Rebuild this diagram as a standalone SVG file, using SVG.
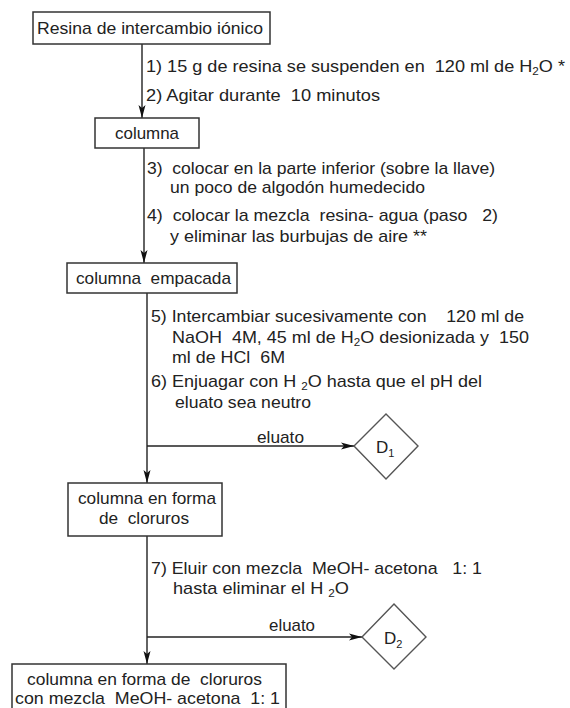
<svg xmlns="http://www.w3.org/2000/svg" width="570" height="708" viewBox="0 0 570 708">
<style>
text{font-family:"Liberation Sans",Arial,sans-serif;font-size:17px;fill:#222;white-space:pre}
.box{fill:#fff;stroke:#333;stroke-width:1.5}
.dia{fill:#fff;stroke:#555;stroke-width:1.4}
.ln{fill:none;stroke:#222;stroke-width:1.4}
.sub{font-size:11px}
</style>
<defs>
<marker id="ah" markerUnits="userSpaceOnUse" markerWidth="14" markerHeight="10" refX="13" refY="4" orient="auto">
<path d="M0,0.5 L13,4 L0,7.5 L3,4 Z" fill="#111"/>
</marker>
</defs>
<rect width="570" height="708" fill="#fff"/>
<g id="connectors">
<line class="ln" x1="142" y1="44" x2="142" y2="118" marker-end="url(#ah)"/>
<line class="ln" x1="144" y1="148" x2="144" y2="263" marker-end="url(#ah)"/>
<line class="ln" x1="147" y1="293" x2="147" y2="483" marker-end="url(#ah)"/>
<line class="ln" x1="147" y1="446" x2="354" y2="446" marker-end="url(#ah)"/>
<line class="ln" x1="147" y1="536" x2="147" y2="664" marker-end="url(#ah)"/>
<line class="ln" x1="147" y1="637" x2="362" y2="637" marker-end="url(#ah)"/>
</g>
<g id="labels">
<text x="146" y="72" textLength="419" lengthAdjust="spacingAndGlyphs">1) 15 g de resina se suspenden en  120 ml de H<tspan class="sub" dy="3">2</tspan><tspan dy="-3">O *</tspan></text>
<text x="146" y="101" textLength="234" lengthAdjust="spacingAndGlyphs">2) Agitar durante  10 minutos</text>
<text x="147" y="174" textLength="348" lengthAdjust="spacingAndGlyphs">3)  colocar en la parte inferior (sobre la llave)</text>
<text x="170" y="193" textLength="255" lengthAdjust="spacingAndGlyphs">un poco de algodón humedecido</text>
<text x="147" y="221" textLength="351" lengthAdjust="spacingAndGlyphs">4)  colocar la mezcla  resina- agua (paso   2)</text>
<text x="170" y="242" textLength="257" lengthAdjust="spacingAndGlyphs">y eliminar las burbujas de aire **</text>
<text x="151" y="322" textLength="373" lengthAdjust="spacingAndGlyphs">5) Intercambiar sucesivamente con    120 ml de</text>
<text x="172" y="343" textLength="357" lengthAdjust="spacingAndGlyphs">NaOH  4M, 45 ml de H<tspan class="sub" dy="3">2</tspan><tspan dy="-3">O desionizada y  150</tspan></text>
<text x="172" y="363" textLength="113" lengthAdjust="spacingAndGlyphs">ml de HCl  6M</text>
<text x="151" y="387" textLength="331" lengthAdjust="spacingAndGlyphs">6) Enjuagar con H <tspan class="sub" dy="3">2</tspan><tspan dy="-3">O hasta que el pH del</tspan></text>
<text x="175" y="408" textLength="136" lengthAdjust="spacingAndGlyphs">eluato sea neutro</text>
<text x="257" y="443" textLength="47" lengthAdjust="spacingAndGlyphs">eluato</text>
<text x="151" y="574" textLength="331" lengthAdjust="spacingAndGlyphs">7) Eluir con mezcla  MeOH- acetona   1: 1</text>
<text x="173" y="594" textLength="176" lengthAdjust="spacingAndGlyphs">hasta eliminar el H <tspan class="sub" dy="3">2</tspan><tspan dy="-3">O</tspan></text>
<text x="269" y="631" textLength="46" lengthAdjust="spacingAndGlyphs">eluato</text>
</g>
<g id="n_resina">
<rect class="box" x="33" y="12" width="237" height="32"/>
<text x="37" y="34" textLength="226" lengthAdjust="spacingAndGlyphs">Resina de intercambio iónico</text>
</g>
<g id="n_columna">
<rect class="box" x="95" y="118" width="104" height="30"/>
<text x="115" y="139" textLength="64" lengthAdjust="spacingAndGlyphs">columna</text>
</g>
<g id="n_empacada">
<rect class="box" x="67" y="263" width="170" height="30"/>
<text x="76" y="284" textLength="155" lengthAdjust="spacingAndGlyphs">columna  empacada</text>
</g>
<g id="n_D1">
<polygon class="dia" points="386,414 418,446 386,479 354,446"/>
<text x="376" y="453">D<tspan class="sub" dy="4">1</tspan></text>
</g>
<g id="n_cloruros">
<rect class="box" x="68" y="483" width="154" height="53"/>
<text x="78" y="504" textLength="138" lengthAdjust="spacingAndGlyphs">columna en forma</text>
<text x="99" y="524" textLength="90" lengthAdjust="spacingAndGlyphs">de  cloruros</text>
</g>
<g id="n_D2">
<polygon class="dia" points="394,604 426,637 394,669 362,637"/>
<text x="384" y="644">D<tspan class="sub" dy="4">2</tspan></text>
</g>
<g id="n_final">
<rect class="box" x="12" y="664" width="274" height="50"/>
<text x="27" y="685" textLength="235" lengthAdjust="spacingAndGlyphs">columna en forma de  cloruros</text>
<text x="15" y="704" textLength="265" lengthAdjust="spacingAndGlyphs">con mezcla  MeOH- acetona  1: 1</text>
</g>
</svg>
